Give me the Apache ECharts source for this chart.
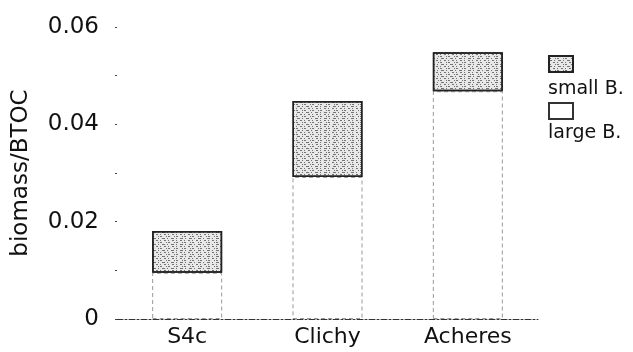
<!DOCTYPE html>
<html>
<head>
<meta charset="utf-8">
<script src="https://cdn.jsdelivr.net/npm/echarts@6/dist/echarts.min.js"></script>
<style>
  html, body { margin: 0; padding: 0; background: #fff; }
  #chart { width: 633px; height: 352px; }
</style>
</head>
<body>
<div id="chart"></div>
<script>
const sites = ['S4c', 'Clichy', 'Acheres']
const largeB = [0.0095, 0.0292, 0.0468]
const smallB = [0.0086, 0.0156, 0.0080]
const seriesNames = ['small B.', 'large B.']

const font = '"DejaVu Sans", sans-serif'
const chart = echarts.init(document.getElementById('chart'))

// stippled fill for the small-biomass part
const stipple = {
  symbol: 'rect',
  symbolSize: 1,
  color: 'rgba(0,0,0,0.5)',
  dashArrayX: [[3, 2, 1, 3], [1, 3, 2, 2], [2, 4, 1, 1]],
  dashArrayY: [1, 1],
  rotation: 0
}

chart.setOption({
  animation: false,
  textStyle: { fontFamily: font },
  grid: { left: 117, right: 95, top: 27, bottom: 33 },
  legend: {
    orient: 'vertical',
    left: 548,
    top: 55,
    padding: 0,
    icon: 'rect',
    itemWidth: 24,
    itemHeight: 16,
    itemGap: 29,
    data: [
      { name: seriesNames[0] },
      { name: seriesNames[1], itemStyle: { borderColor: '#333' } }
    ],
    formatter: () => '',
    selectedMode: false
  },
  // legend text sits below each swatch in the original
  graphic: [
    { type: 'text', left: 548, top: 80, style: { text: seriesNames[0], font: '19px ' + font, fill: '#111' } },
    { type: 'text', left: 548, top: 124, style: { text: seriesNames[1], font: '19px ' + font, fill: '#111' } }
  ],
  xAxis: {
    type: 'category',
    data: sites,
    axisLine: { lineStyle: { color: '#333', type: [6, 2, 2, 2], width: 1 } },
    axisTick: { show: false },
    axisLabel: { color: '#111', fontSize: 22, margin: 7 }
  },
  yAxis: {
    type: 'value',
    min: 0,
    max: 0.06,
    interval: 0.01,
    name: 'biomass/BTOC',
    nameLocation: 'middle',
    nameGap: 84,
    nameTextStyle: { color: '#111', fontSize: 23 },
    axisLine: { show: false },
    splitLine: { show: false },
    axisTick: { show: true, length: 2, lineStyle: { color: '#444' } },
    axisLabel: {
      color: '#111',
      fontSize: 23,
      margin: 18,
      formatter: v => {
        const k = Math.round(v * 100)
        if (k % 2 !== 0) return ''
        return k === 0 ? '0' : v.toFixed(2)
      }
    }
  },
  series: [
    {
      name: 'large B.',
      type: 'bar',
      stack: 'b',
      barWidth: 70,
      data: largeB,
      itemStyle: { color: '#fff', borderColor: '#999', borderWidth: 1, borderType: [4, 3] }
    },
    {
      name: 'small B.',
      type: 'bar',
      stack: 'b',
      barWidth: 70,
      data: smallB,
      itemStyle: { color: '#e8e8e8', borderColor: '#222', borderWidth: 1.5, decal: stipple }
    }
  ]
})
</script>
</body>
</html>
